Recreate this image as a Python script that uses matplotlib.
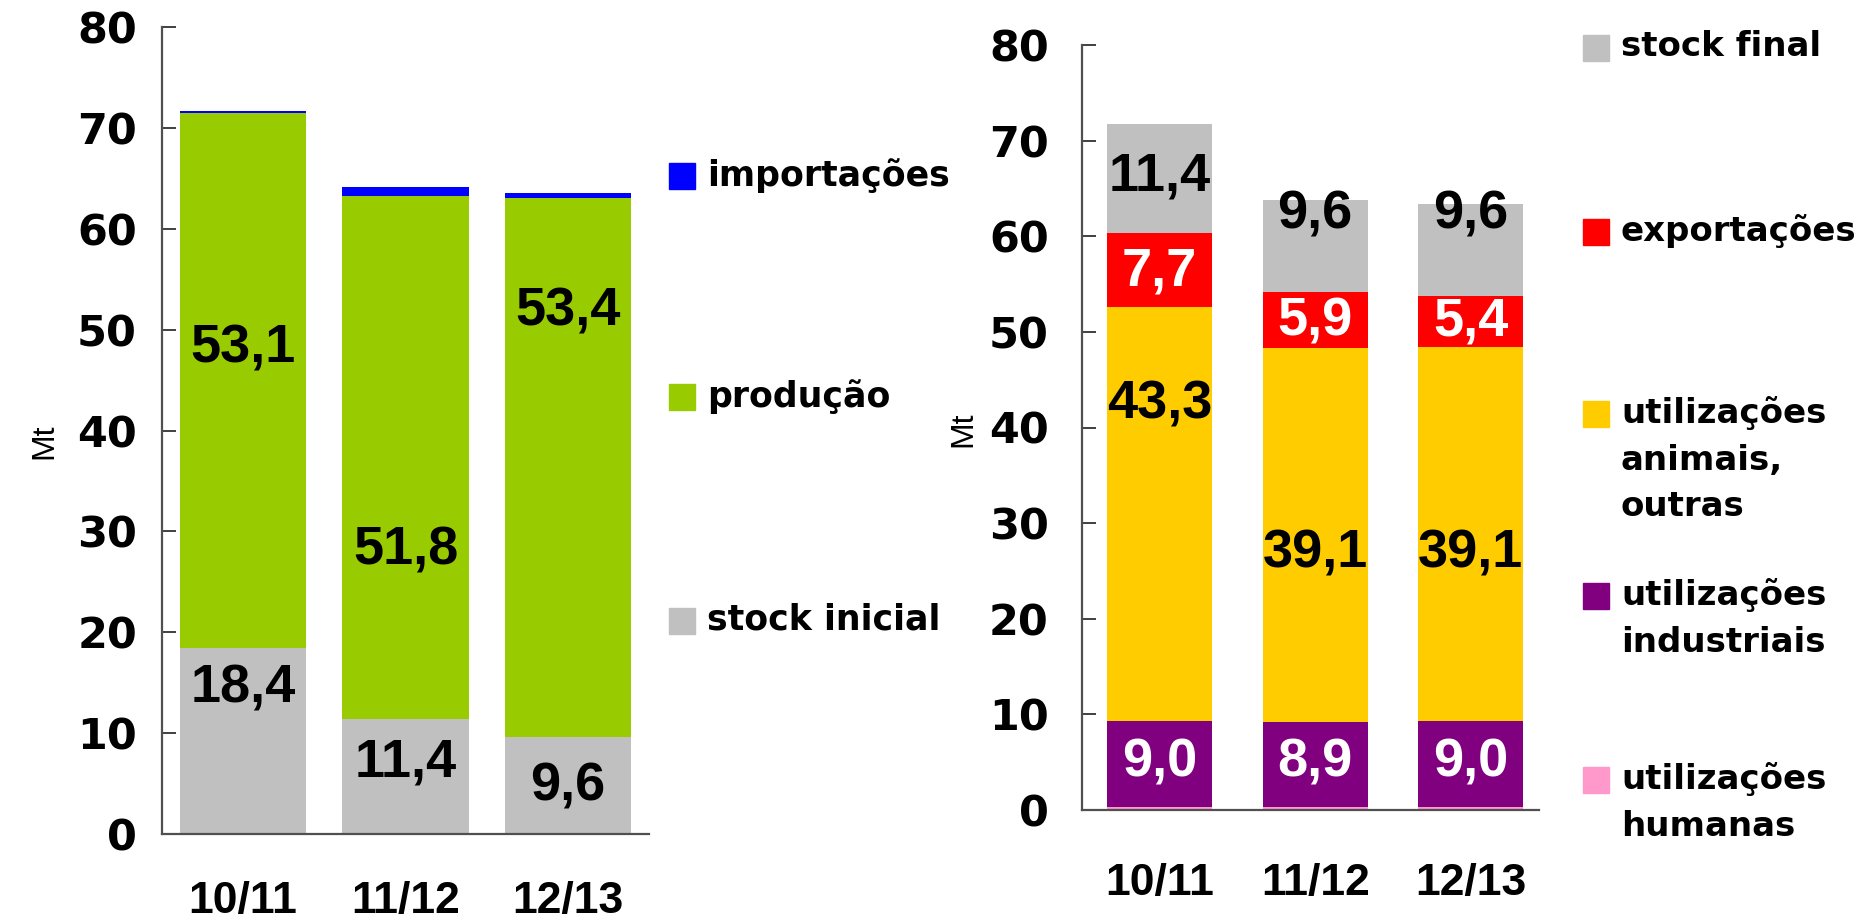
import matplotlib.pyplot as plt
from matplotlib.patches import Rectangle

plt.rcParams['font.family'] = ['Liberation Sans', 'DejaVu Sans']

# data (Mt)
seasons = ['10/11', '11/12', '12/13']

# supply side
stock_inicial = [18.4, 11.4, 9.6]
producao = [53.1, 51.8, 53.4]
importacoes = [0.2, 0.9, 0.5]

# use side
util_humanas = [0.3, 0.3, 0.3]
util_industriais = [9.0, 8.9, 9.0]
util_animais = [43.3, 39.1, 39.1]
exportacoes = [7.7, 5.9, 5.4]
stock_final = [11.4, 9.6, 9.6]

# where the value labels sit (data units), as placed in the original
label_y_left = {
    'stock': [14.4, 7.1, 4.7],
    'prod': [48.1, 28.1, 51.8],
}
label_y_right = {
    'ind': [5.0, 5.0, 5.0],
    'anim': [42.4, 26.8, 26.8],
    'exp': [56.3, 51.1, 51.1],
    'stock': [66.3, 62.3, 62.3],
}

GREY = '#C0C0C0'
GREEN = '#99CC00'
BLUE = '#0000FF'
RED = '#FF0000'
YELLOW = '#FFCC00'
PURPLE = '#800080'
PINK = '#FF99CC'

W, H = 1868, 923
fig = plt.figure(figsize=(W / 100, H / 100), dpi=100)


def fmt(v):
    return f'{v:.1f}'.replace('.', ',')


def style_axis(ax, ypad, xpad, xmax):
    ax.set_ylim(0, 80)
    ax.set_xlim(-0.5, xmax)
    ax.set_yticks(range(0, 81, 10))
    ax.set_xticks(range(len(seasons)))
    ax.set_xticklabels(seasons)
    for s in ['top', 'right']:
        ax.spines[s].set_visible(False)
    for s in ['left', 'bottom']:
        ax.spines[s].set_color('#505050')
        ax.spines[s].set_linewidth(1.6)
    ax.tick_params(axis='y', direction='in', length=10, width=1.4,
                   color='#404040', pad=ypad)
    ax.tick_params(axis='x', length=0, pad=xpad, labelsize=32)
    for lab in ax.get_xticklabels():
        lab.set_fontweight('bold')
    for lab in ax.get_yticklabels():
        lab.set_fontfamily('DejaVu Sans')
        lab.set_fontweight('bold')
        lab.set_fontsize(31)


def put_labels(ax, ys, vals, color):
    for i, (y, v) in enumerate(zip(ys, vals)):
        ax.text(i, y, fmt(v), ha='center', va='center', fontsize=39,
                fontweight='bold', color=color)


# left chart: supply
ax1 = fig.add_axes([162 / W, 1 - 834 / H, (649 - 162) / W, (834 - 27) / H])
x = range(len(seasons))
bw1 = 0.78
ax1.bar(x, stock_inicial, bw1, color=GREY)
b = stock_inicial
ax1.bar(x, producao, bw1, bottom=b, color=GREEN)
b = [p + q for p, q in zip(b, producao)]
ax1.bar(x, importacoes, bw1, bottom=b, color=BLUE)
style_axis(ax1, 18, 34, 2.5)
put_labels(ax1, label_y_left['stock'], stock_inicial, 'black')
put_labels(ax1, label_y_left['prod'], producao, 'black')

# right chart: uses
ax2 = fig.add_axes([1082 / W, 1 - 810 / H, (1539 - 1082) / W, (810 - 45) / H])
bw2 = 0.676
series = [util_humanas, util_industriais, util_animais, exportacoes, stock_final]
cols = [PINK, PURPLE, YELLOW, RED, GREY]
bottom = [0, 0, 0]
for vals, c in zip(series, cols):
    ax2.bar(x, vals, bw2, bottom=bottom, color=c)
    bottom = [p + q for p, q in zip(bottom, vals)]
style_axis(ax2, 24, 38, 2.44)
put_labels(ax2, label_y_right['ind'], util_industriais, 'white')
put_labels(ax2, label_y_right['anim'], util_animais, 'black')
put_labels(ax2, label_y_right['exp'], exportacoes, 'white')
put_labels(ax2, label_y_right['stock'], stock_final, 'black')

# axis titles
fig.text(44 / W, 1 - 441 / H, 'Mt', rotation=90, ha='center', va='center', fontsize=23)
fig.text(963 / W, 1 - 429 / H, 'Mt', rotation=90, ha='center', va='center', fontsize=23)


# legends drawn as in the original, spread down the side
def legend_item(xp, yc, color, label, size=25):
    sq = 26
    fig.patches.append(Rectangle((xp / W, 1 - (yc + sq / 2) / H), sq / W, sq / H,
                                 transform=fig.transFigure, color=color))
    fig.text((xp + sq + 12) / W, 1 - (yc - 18) / H, label, ha='left', va='top',
             fontsize=size, fontweight='bold', family='DejaVu Sans', linespacing=1.52)


legend_item(669, 176, BLUE, 'importações')
legend_item(669, 397, GREEN, 'produção')
legend_item(669, 621, GREY, 'stock inicial')

legend_item(1583, 48, GREY, 'stock final', 24.5)
legend_item(1583, 232, RED, 'exportações', 24.5)
legend_item(1583, 414, YELLOW, 'utilizações\nanimais,\noutras', 24.5)
legend_item(1583, 596, PURPLE, 'utilizações\nindustriais', 24.5)
legend_item(1583, 780, PINK, 'utilizações\nhumanas', 24.5)

fig.savefig('out.png', dpi=100)
